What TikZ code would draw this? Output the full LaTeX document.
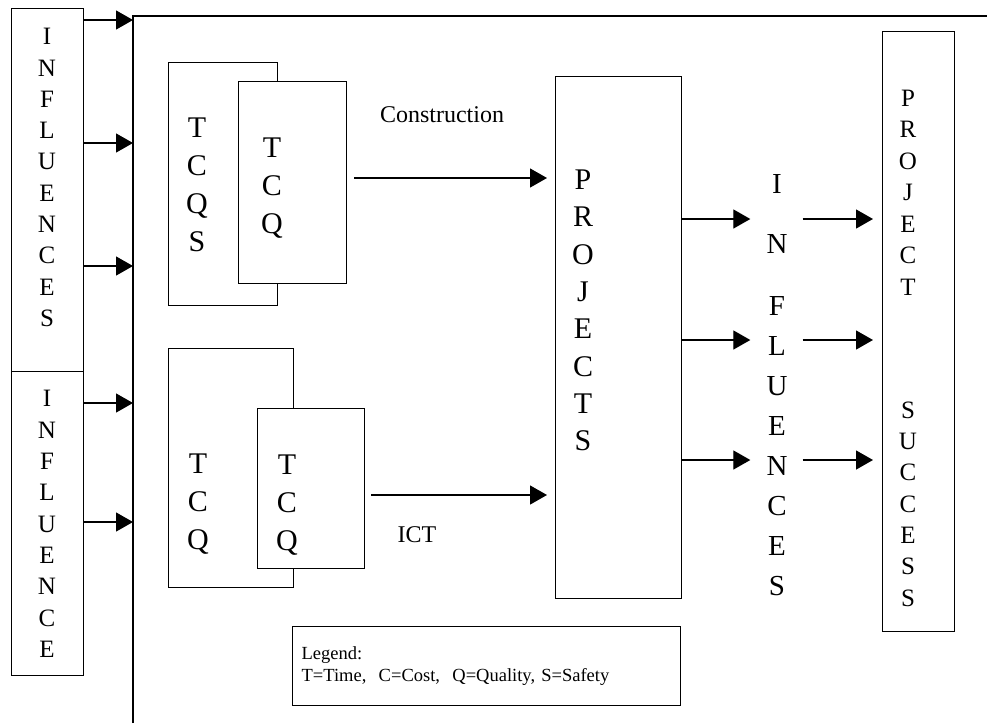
\documentclass[tikz,border=0pt]{standalone}
\usepackage{fontspec}
\setmainfont{Liberation Serif}
\usetikzlibrary{arrows.meta,positioning}
\tikzset{
  box/.style={rectangle,draw=black,line width=1.3pt,fill=white,inner sep=0pt,anchor=north west},
  vtext/.style={align=center,inner sep=3pt,font=\fontsize{25}{31.3}\selectfont},
  btext/.style={align=center,inner sep=3pt,font=\fontsize{30}{38}\selectfont},
  lab/.style={inner sep=0pt,font=\fontsize{24}{28}\selectfont},
  legendbox/.style={box,align=left,inner xsep=9pt,font=\fontsize{18.5}{22}\selectfont},
  ln/.style={line width=1.3pt},
  ar/.style={-{Triangle[length=17pt,width=19pt]},line width=1.3pt},
}

\begin{document}
\begin{tikzpicture}[x=1pt,y=-1pt]
\useasboundingbox (0,0) rectangle (987,723);
% ---- left: influences column ----
\node[box,minimum width=72,minimum height=363] (infl1) at (11,8) {};
\node[box,minimum width=72,minimum height=304] (infl2) at (11,371) {};
\node[vtext] (infl1txt) at (47,177.5) {I\\N\\F\\L\\U\\E\\N\\C\\E\\S};
\node[vtext] (infl2txt) at (47,524) {I\\N\\F\\L\\U\\E\\N\\C\\E};
\coordinate (spine) at (133,16);
\coordinate (spineEnd) at (133,723);
\coordinate (topEnd) at (987,16);
\draw[ln] (spineEnd) -- (spine) -- (topEnd);
\foreach \y in {20,143,266}{
  \coordinate (h) at (0,\y);
  \draw[ar] (infl1.east |- h) -- (spine |- h);
}
\foreach \y in {403,522}{
  \coordinate (h) at (0,\y);
  \draw[ar] (infl2.east |- h) -- (spine |- h);
}

% ---- construction: TCQS / TCQ ----
\node[box,minimum width=109,minimum height=243] (tcqs) at (168,62) {};
\node[box,minimum width=108,minimum height=202] (tcq1) at (238,81) {};
\node[btext] (tcqstxt) at (197,185) {T\\C\\Q\\S};
\node[btext] (tcq1txt) at (272,188) {T\\C\\Q};
\node[lab] (constr) at (442,115) {Construction};

% ---- ICT: TCQ / TCQ ----
\node[box,minimum width=125,minimum height=239] (tcq2back) at (168,348) {};
\node[box,minimum width=107,minimum height=160] (tcq2) at (257,408) {};
\node[btext] (tcq2backtxt) at (198,504) {T\\C\\Q};
\node[btext] (tcq2txt) at (287,505) {T\\C\\Q};
\node[lab] (ict) at (417,535) {ICT};

% ---- projects ----
\node[box,minimum width=126,minimum height=522] (proj) at (555,76) {};
\node[btext,font=\fontsize{30}{37.3}\selectfont] (projtxt) at (583,310.5) {P\\R\\O\\J\\E\\C\\T\\S};
\coordinate (h) at (0,178);
\draw[ar] ([xshift=7pt]tcq1.east |- h) -- ([xshift=-8pt]proj.west |- h);
\coordinate (h) at (0,495);
\draw[ar] ([xshift=6pt]tcq2.east |- h) -- ([xshift=-8pt]proj.west |- h);

% ---- influences -> project success ----
\node[btext,font=\fontsize{29}{40}\selectfont] (infltxt) at (777,385) {I\\[20pt]N\\[22pt]F\\L\\U\\E\\N\\C\\E\\S};
\node[box,minimum width=72,minimum height=600] (ps) at (882,31) {};
\node[vtext,font=\fontsize{25}{31.5}\selectfont] (pstxt1) at (908,192.5) {P\\R\\O\\J\\E\\C\\T};
\node[vtext] (pstxt2) at (908,504) {S\\U\\C\\C\\E\\S\\S};
\coordinate (inflIn) at ([xshift=-13pt]infltxt.west);
\coordinate (inflOut) at ([xshift=12pt]infltxt.east);
\coordinate (psIn) at ([xshift=-9pt]ps.west);
\foreach \y in {219,340,460}{
  \coordinate (h) at (0,\y);
  \draw[ar] (proj.east |- h) -- (inflIn |- h);
  \draw[ar] (inflOut |- h) -- (psIn |- h);
}

% ---- legend ----
\node[legendbox,minimum width=388,minimum height=79,text width=370] (legend) at (292,626)
  {Legend:\\T=Time,\ \ C=Cost,\ \ Q=Quality, S=Safety};
\end{tikzpicture}
\end{document}
